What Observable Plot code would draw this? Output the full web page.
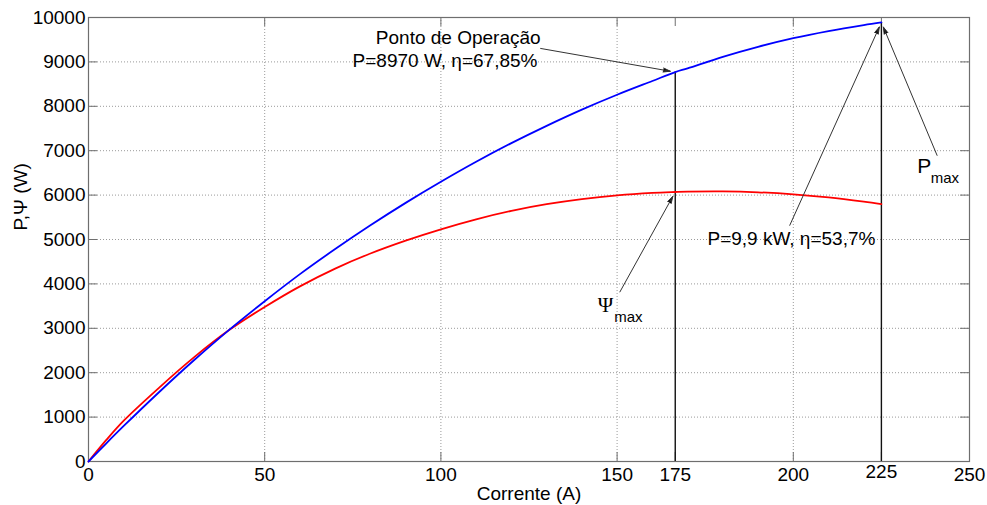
<!DOCTYPE html>
<html>
<head>
<meta charset="utf-8">
<script src="https://cdn.jsdelivr.net/npm/d3@7"></script>
<script src="https://cdn.jsdelivr.net/npm/@observablehq/plot@0.6"></script>
<style>
  html, body { margin: 0; padding: 0; background: #fff; }
  #chart svg { display: block; }
</style>
</head>
<body>
<div id="chart"></div>
<script>
// Current samples (A) and the two power curves (W)
const currentA = [0, 5, 10, 20, 30, 40, 50, 60, 70, 80, 90, 100, 110, 120, 130, 140, 150, 160, 166.5, 170, 180, 190, 200, 210, 220, 225];
const powerP   = [0, 405, 800, 1560, 2285, 2970, 3610, 4220, 4785, 5320, 5825, 6300, 6750, 7170, 7560, 7925, 8260, 8570, 8770, 8855, 9115, 9340, 9535, 9695, 9830, 9890];
const powerPsi = [0, 480, 920, 1660, 2350, 2965, 3480, 3945, 4345, 4685, 4975, 5230, 5455, 5645, 5795, 5910, 5995, 6050, 6070, 6078, 6083, 6063, 6018, 5948, 5853, 5798];

// Operating point and maximum-power current (A)
const opCurrent = 166.5;
const maxCurrent = 225;

// Axis ticks
const xTickValues = [0, 50, 100, 150, 166.5, 200, 225, 250];
const xTickLabels = ["0", "50", "100", "150", "175", "200", "225", "250"];
const xGrid = [0, 50, 100, 150, 200, 250];
const yTickValues = [0, 1000, 2000, 3000, 4000, 5000, 6000, 7000, 8000, 9000, 10000];

const rowsP = currentA.map((c, i) => ({c, v: powerP[i]}));
const rowsPsi = currentA.map((c, i) => ({c, v: powerPsi[i]}));
const at = (c) => currentA.indexOf(c);
const opP = powerP[at(opCurrent)];
const opPsi = powerPsi[at(opCurrent)];
const maxP = powerP[at(maxCurrent)];

const W = 987, H = 505;
const mL = 88, mR = 18, mT = 17, mB = 44;
const innerW = W - mL - mR, innerH = H - mT - mB;
const tickLen = 9;
const axisColor = "#6e6e6e";
const fs = 19;
const font = "'Liberation Sans', Arial, Helvetica, sans-serif";
const serif = "'Liberation Serif', 'DejaVu Serif', serif";

const xTicks = xTickValues.map((v, i) => ({v, label: xTickLabels[i]}));
const arrowStyle = {stroke: "#333", fill: "#000", strokeWidth: 1, headLength: 11, headAngle: 32, insetEnd: 5};

const chart = Plot.plot({
  width: W,
  height: H,
  marginLeft: mL,
  marginRight: mR,
  marginTop: mT,
  marginBottom: mB,
  style: {fontFamily: font, fontSize: fs + "px", background: "#fff", color: "#000"},
  x: {domain: [0, 250], axis: null},
  y: {domain: [0, 10000], axis: null},
  marks: [
    // dotted grid
    Plot.ruleY(yTickValues.slice(1, -1), {stroke: "#9a9a9a", strokeDasharray: "1,2", strokeWidth: 1}),
    Plot.ruleX(xGrid.slice(1, -1), {stroke: "#9a9a9a", strokeDasharray: "1,2", strokeWidth: 1}),
    // inward tick marks on all four sides
    Plot.ruleY(yTickValues, {stroke: axisColor, insetRight: innerW - tickLen}),
    Plot.ruleY(yTickValues, {stroke: axisColor, insetLeft: innerW - tickLen}),
    Plot.ruleX(xTickValues, {stroke: axisColor, insetTop: innerH - tickLen}),
    Plot.ruleX(xTickValues, {stroke: axisColor, insetBottom: innerH - tickLen}),
    Plot.frame({stroke: axisColor, strokeWidth: 1.2}),
    // tick labels
    Plot.text(yTickValues, {x: 0, y: d => d, text: d => String(d), textAnchor: "end", lineAnchor: "middle", dx: -3, fontSize: fs}),
    Plot.text(xTicks.filter(d => d.v !== maxCurrent), {x: "v", y: 0, text: "label", lineAnchor: "bottom", dy: 19, fontSize: fs}),
    Plot.text(xTicks.filter(d => d.v === maxCurrent), {x: "v", y: 0, text: "label", lineAnchor: "bottom", dy: 16, fontSize: fs}),
    // axis titles
    Plot.text(["Corrente (A)"], {frameAnchor: "bottom", lineAnchor: "bottom", dy: 38, fontSize: fs}),
    Plot.text(["P,Ψ (W)"], {frameAnchor: "left", dx: -68, dy: -9, rotate: -90, fontSize: fs}),
    // operating-point and maximum-power markers
    Plot.ruleX([{c: opCurrent, v: opP}, {c: maxCurrent, v: maxP}], {x: "c", y1: 0, y2: "v", stroke: "#111", strokeWidth: 1.4}),
    // curves
    Plot.line(rowsPsi, {x: "c", y: "v", stroke: "#ff0000", strokeWidth: 1.8, curve: "catmull-rom"}),
    Plot.line(rowsP, {x: "c", y: "v", stroke: "#0000ff", strokeWidth: 1.8, curve: "catmull-rom"}),
    // annotations
    Plot.text(["Ponto de Operação"], {x: 128.3, y: 9393, textAnchor: "end", lineAnchor: "bottom", fontSize: fs}),
    Plot.text(["P=8970 W, η=67,85%"], {x: 127.4, y: 8875, textAnchor: "end", lineAnchor: "bottom", fontSize: fs}),
    Plot.arrow([{x1: 128.3, y1: 9303, x2: opCurrent, y2: opP}], {x1: "x1", y1: "y1", x2: "x2", y2: "y2", ...arrowStyle}),
    Plot.text(["Ψ"], {x: 144.5, y: 3363, textAnchor: "start", lineAnchor: "bottom", fontSize: 21, fontFamily: serif}),
    Plot.text(["max"], {x: 149.2, y: 3150, textAnchor: "start", lineAnchor: "bottom", fontSize: 15}),
    Plot.arrow([{x1: 150.8, y1: 3820, x2: opCurrent, y2: opPsi}], {x1: "x1", y1: "y1", x2: "x2", y2: "y2", ...arrowStyle}),
    Plot.text(["P=9,9 kW, η=53,7%"], {x: 223.3, y: 4870, textAnchor: "end", lineAnchor: "bottom", fontSize: fs}),
    Plot.arrow([{x1: 199, y1: 5320, x2: maxCurrent, y2: maxP}], {x1: "x1", y1: "y1", x2: "x2", y2: "y2", ...arrowStyle}),
    Plot.text(["P"], {x: 235.2, y: 6490, textAnchor: "start", lineAnchor: "bottom", fontSize: 21}),
    Plot.text(["max"], {x: 239.0, y: 6280, textAnchor: "start", lineAnchor: "bottom", fontSize: 15}),
    Plot.arrow([{x1: 240.8, y1: 6895, x2: maxCurrent, y2: maxP}], {x1: "x1", y1: "y1", x2: "x2", y2: "y2", ...arrowStyle})
  ]
});

document.getElementById("chart").appendChild(chart);
</script>
</body>
</html>
